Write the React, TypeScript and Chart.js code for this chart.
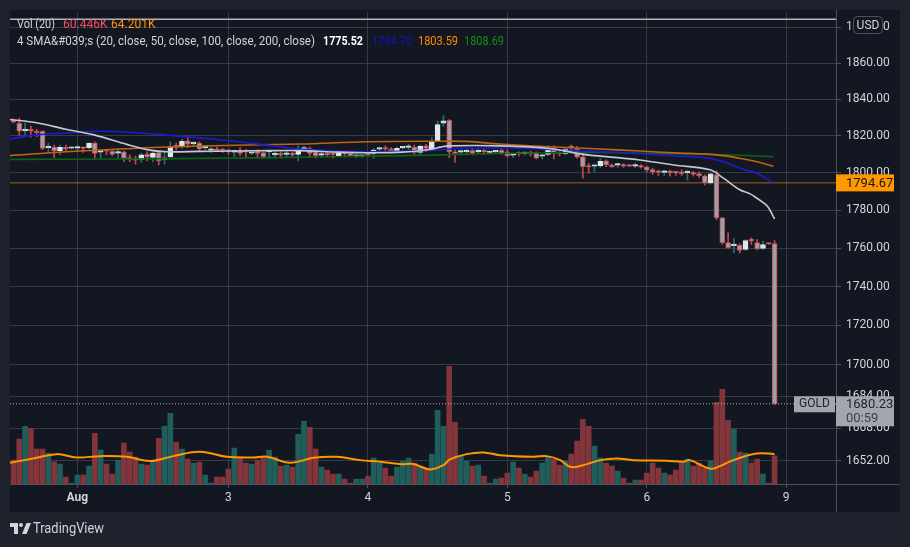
import React, { useEffect, useRef } from "react";
import { Chart, registerables } from "chart.js";

Chart.register(...registerables);

const FONT = "Roboto, 'Noto Sans', sans-serif";

// ---- OHLC (hourly bars, index 0..131) ----
const opens = [
  1828.4, 1826.8, 1822.9, 1823.6, 1822.0, 1822.5, 1813.6, 1813.9, 1812.0, 1813.9,
  1813.3, 1813.4, 1813.9, 1813.6, 1816.1, 1811.2, 1811.9, 1811.6, 1810.7, 1811.4,
  1808.2, 1807.7, 1807.3, 1810.0, 1808.4, 1810.9, 1807.3, 1808.8, 1815.0, 1814.1,
  1817.3, 1815.7, 1816.1, 1813.6, 1812.2, 1813.0, 1812.3, 1811.9, 1811.2, 1812.2,
  1811.4, 1810.6, 1811.8, 1810.9, 1811.3, 1809.7, 1810.55, 1810.0, 1810.55, 1810.0,
  1812.8, 1813.2, 1811.4, 1809.6, 1810.55, 1810.1, 1809.3, 1810.5, 1810.55, 1809.0,
  1809.0, 1810.55, 1810.55, 1812.8, 1813.1, 1813.0, 1812.0, 1813.5, 1813.8, 1813.9,
  1811.1, 1814.65, 1812.9, 1817.3, 1826.9, 1828.4, 1811.4, 1811.2, 1811.3, 1812.0,
  1811.3, 1811.5, 1811.0, 1811.3, 1812.2, 1811.4, 1809.6, 1810.5, 1810.4, 1810.6,
  1810.9, 1809.0, 1810.0, 1813.2, 1810.6, 1810.4, 1813.9, 1812.9, 1808.6, 1803.4,
  1803.6, 1803.8, 1806.5, 1804.35, 1804.2, 1804.5, 1803.9, 1803.7, 1804.0, 1803.3,
  1801.85, 1800.5, 1800.3, 1801.0, 1800.2, 1800.6, 1800.0, 1799.6, 1799.7, 1798.5,
  1794.6, 1799.0, 1776.0, 1763.05, 1761.4, 1761.5, 1759.4, 1764.2, 1763.05, 1759.9,
  1762.45, 1762.4,
];
const highs = [
  1829.3, 1829.6, 1827.1, 1825.3, 1823.6, 1822.85, 1816.1, 1815.0, 1815.0, 1815.0,
  1814.0, 1814.7, 1813.9, 1816.4, 1816.8, 1812.3, 1812.0, 1812.7, 1812.9, 1811.8,
  1809.7, 1809.1, 1810.55, 1811.4, 1811.4, 1811.4, 1811.8, 1816.8, 1816.1, 1818.2,
  1819.5, 1816.8, 1816.8, 1814.5, 1813.6, 1814.0, 1813.2, 1812.7, 1812.3, 1813.6,
  1812.7, 1811.4, 1812.5, 1811.4, 1812.3, 1811.4, 1811.4, 1812.3, 1811.1, 1814.65,
  1814.5, 1814.1, 1812.0, 1811.1, 1811.4, 1810.7, 1811.4, 1811.4, 1811.1, 1809.8,
  1809.8, 1811.4, 1813.2, 1813.8, 1814.65, 1813.6, 1813.9, 1814.1, 1815.4, 1815.0,
  1815.0, 1815.4, 1819.1, 1828.0, 1831.05, 1828.9, 1812.3, 1812.3, 1812.7, 1812.7,
  1812.7, 1812.7, 1811.8, 1812.0, 1812.7, 1812.3, 1810.55, 1811.4, 1811.4, 1811.8,
  1811.4, 1810.0, 1814.65, 1814.65, 1811.4, 1813.6, 1815.07, 1814.3, 1811.5, 1805.2,
  1804.7, 1807.9, 1807.0, 1804.7, 1805.2, 1805.0, 1804.2, 1805.1, 1804.5, 1803.6,
  1802.6, 1801.5, 1801.5, 1801.5, 1800.8, 1801.85, 1801.5, 1800.8, 1800.4, 1799.0,
  1799.9, 1801.1, 1776.35, 1768.1, 1765.15, 1762.35, 1764.6, 1765.5, 1764.6, 1763.75,
  1762.7, 1764.0,
];
const lows = [
  1827.1, 1820.4, 1820.4, 1819.3, 1819.6, 1812.5, 1811.1, 1808.2, 1809.7, 1811.8,
  1812.8, 1812.3, 1811.1, 1812.9, 1807.9, 1807.9, 1809.7, 1809.1, 1808.2, 1806.1,
  1806.1, 1804.7, 1805.7, 1806.45, 1806.1, 1804.3, 1804.7, 1807.5, 1812.3, 1813.2,
  1813.6, 1814.5, 1811.4, 1812.5, 1811.1, 1811.4, 1811.1, 1810.2, 1808.8, 1809.3,
  1808.8, 1810.0, 1808.8, 1807.9, 1808.6, 1807.9, 1807.9, 1808.6, 1808.6, 1806.45,
  1811.4, 1808.8, 1807.9, 1808.2, 1808.6, 1807.9, 1809.0, 1808.6, 1808.6, 1808.2,
  1808.2, 1809.0, 1807.9, 1811.4, 1811.8, 1811.4, 1811.4, 1813.0, 1812.2, 1810.0,
  1809.7, 1811.4, 1812.3, 1816.8, 1825.3, 1808.2, 1805.6, 1809.7, 1809.7, 1809.7,
  1810.4, 1810.0, 1810.2, 1810.7, 1810.0, 1808.6, 1808.4, 1809.1, 1809.7, 1809.1,
  1807.5, 1807.5, 1809.3, 1807.5, 1809.1, 1809.7, 1812.4, 1807.9, 1797.2, 1799.9,
  1800.4, 1802.9, 1803.3, 1802.9, 1802.9, 1803.0, 1803.4, 1802.9, 1802.6, 1800.4,
  1799.35, 1798.6, 1798.6, 1798.3, 1798.6, 1798.6, 1796.1, 1798.3, 1797.6, 1793.6,
  1794.0, 1775.1, 1762.0, 1759.9, 1757.6, 1757.6, 1758.85, 1762.0, 1759.2, 1759.4,
  1762.0, 1679.8,
];
const closes = [
  1827.5, 1822.5, 1823.1, 1822.5, 1821.7, 1813.2, 1813.8, 1811.8, 1813.8, 1812.9,
  1813.5, 1813.6, 1813.2, 1815.9, 1810.55, 1811.5, 1811.7, 1810.0, 1811.1, 1807.9,
  1807.5, 1806.8, 1809.7, 1808.6, 1810.7, 1806.45, 1807.7, 1814.1, 1813.8, 1817.0,
  1815.5, 1815.9, 1812.9, 1813.8, 1812.4, 1812.0, 1812.1, 1811.7, 1811.4, 1810.55,
  1811.2, 1810.8, 1810.55, 1808.6, 1811.5, 1809.9, 1809.7, 1810.2, 1809.7, 1812.0,
  1813.0, 1810.55, 1809.1, 1809.8, 1809.7, 1809.9, 1810.55, 1810.3, 1809.1, 1809.2,
  1809.2, 1809.7, 1812.3, 1813.0, 1812.9, 1812.0, 1813.2, 1813.7, 1814.0, 1811.1,
  1814.3, 1813.2, 1817.0, 1826.1, 1828.2, 1811.3, 1810.55, 1811.4, 1811.5, 1810.55,
  1811.5, 1811.3, 1811.2, 1811.5, 1810.55, 1809.1, 1809.8, 1810.3, 1810.6, 1810.4,
  1807.9, 1809.2, 1813.2, 1810.55, 1810.4, 1812.8, 1813.7, 1808.5, 1803.3, 1803.2,
  1803.8, 1806.3, 1804.35, 1803.3, 1804.5, 1803.6, 1803.7, 1803.9, 1803.1, 1801.5,
  1800.4, 1800.3, 1800.5, 1800.2, 1800.0, 1799.5, 1800.2, 1799.4, 1798.5, 1794.6,
  1799.5, 1776.0, 1762.9, 1760.25, 1761.6, 1758.85, 1764.1, 1763.9, 1759.7, 1762.0,
  1762.25, 1680.23,
];

// ---- Volume (thousands) ----
const volumes = [
  51.3, 96.3, 124.1, 119.8, 74.9, 74.9, 66.3, 47.8, 42.8, 15.0,
  2.1, 19.3, 19.3, 38.5, 109.1, 72.7, 42.8, 21.4, 51.3, 87.7,
  68.4, 57.8, 42.8, 40.6, 47.1, 98.4, 124.1, 151.9, 89.8, 74.9,
  53.5, 44.9, 47.1, 19.3, 2.1, 15.0, 15.0, 32.1, 77.0, 57.8,
  44.9, 42.8, 51.3, 57.8, 72.7, 57.8, 38.5, 40.6, 36.4, 107.0,
  134.8, 121.9, 74.9, 36.4, 29.9, 21.4, 21.4, 10.7, 2.1, 10.7,
  10.7, 17.1, 55.6, 44.9, 34.2, 17.1, 36.4, 49.2, 55.6, 44.9,
  36.4, 32.1, 64.2, 158.3, 124.1, 253.1, 132.6, 59.9, 49.2, 38.5,
  40.6, 17.1, 2.1, 10.7, 12.8, 23.5, 47.1, 34.2, 21.4, 15.0,
  27.8, 44.9, 57.8, 53.5, 40.6, 49.2, 64.2, 92.0, 139.0, 124.1,
  81.3, 55.6, 44.9, 38.5, 27.8, 12.8, 2.1, 8.6, 8.6, 23.5,
  44.9, 34.2, 23.5, 19.3, 29.9, 44.9, 53.5, 38.5, 44.9, 34.2,
  49.2, 175.4, 203.2, 136.9, 117.6, 68.4, 66.3, 44.9, 53.5, 21.4,
  2.1, 60.446,
];
const volMaX = [
  -0.6, 3.4, 7.4, 10.9, 14.9, 19.5, 23.5, 27.5, 32.1, 36.7, 41.3, 43.6, 47.6, 51.6,
  55.6, 59.6, 63.1, 66.5, 68.8, 71.7, 74, 75.1, 78, 80.9, 83.7, 89.5, 91.8, 94.1,
  95.8, 97.5, 101, 103.8, 106.7, 112.4, 115.3, 116.4, 119.9, 121.6, 123.9, 127.9, 131,
];
const volMaY = [
  45.6, 54.9, 64.2, 57.0, 59.9, 58.5, 49.2, 59.9, 69.2, 58.5, 57.0, 58.5, 45.6, 56.3,
  58.5, 51.3, 47.8, 42.8, 42.8, 31.4, 40.6, 52.8, 64.2, 67.7, 62.0, 58.5, 59.9, 51.3,
  37.1, 38.5, 51.3, 54.9, 51.3, 49.9, 47.8, 51.3, 32.8, 38.5, 51.3, 65.6, 64.2,
];

// ---- Moving averages ----
const sma20X = [-0.6, 4, 9, 14, 19.5, 23.5, 26.5, 32, 38, 44, 49.3, 56, 60.8, 67, 72, 73.5, 75, 83.7, 92.3, 98.1, 102, 107.8, 113.6, 119.9, 122.2, 125, 126.8, 127.9, 129.1, 129.9, 131];
const sma20Y = [1828.9, 1827.1, 1823.6, 1820.4, 1815.4, 1812.3, 1811.4, 1811.6, 1811.8, 1812.0, 1812.0, 1811.2, 1810.9, 1811.2, 1812.8, 1813.9, 1814.6, 1814.6, 1813.2, 1810.0, 1808.8, 1807.0, 1804.3, 1801.7, 1797.2, 1791.0, 1788.8, 1786.6, 1784.0, 1781.7, 1775.52];
const sma50X = [-0.6, 3.4, 9, 16, 20.6, 26.4, 32, 38, 43.6, 49.3, 60.8, 72.3, 78, 84, 90.6, 96, 102.1, 108, 113.6, 119.3, 122.2, 125.1, 127.9, 130.8];
const sma50Y = [1818.2, 1820.4, 1821.6, 1822.5, 1821.8, 1820.4, 1818.9, 1817.1, 1815.0, 1812.9, 1811.4, 1812.3, 1813.3, 1813.4, 1812.9, 1812.0, 1811.4, 1810.3, 1809.2, 1808.1, 1806.0, 1802.5, 1799.8, 1794.7];
const sma100X = [-0.6, 9, 20.6, 32, 49.3, 60.8, 72.3, 78, 83.7, 92.3, 100, 107.8, 113.6, 119.3, 122.5, 125.1, 128, 130.8];
const sma100Y = [1809.3, 1811.4, 1813.2, 1814.5, 1815.6, 1816.8, 1817.1, 1817.0, 1815.6, 1814.1, 1813.0, 1811.8, 1810.8, 1810.1, 1809.2, 1807.8, 1806.0, 1803.59];
const sma200X = [-0.6, 20, 35, 49.3, 60.8, 72.3, 83.7, 92.3, 100, 108, 114, 120, 125, 130.8];
const sma200Y = [1807.3, 1807.5, 1807.9, 1808.4, 1809.1, 1809.6, 1810.5, 1810.9, 1811.0, 1810.6, 1810.3, 1810.0, 1809.5, 1808.69];

// ---- Axes / levels ----
const xTickValues = [11, 37, 61, 85, 109, 133];
const xTickLabels = ["Aug", "3", "4", "5", "6", "9"];
const yTickValues = [1652, 1668, 1684, 1700, 1720, 1740, 1760, 1780, 1800, 1820, 1840, 1860, 1880];
const orangeLevel = 1794.67;
const lastPrice = 1680.23;
const topLevel = 1884.5;
const X_MIN = -0.602;
const X_MAX = 141.57;
const Y_MIN = 1640.5;
const Y_MAX = 1888.4;
const VOL_MAX = 1014;

const decor = {
  id: "decor",
  beforeDraw(chart: any) {
    const c = chart.ctx;
    c.save();
    c.fillStyle = "#1e222d";
    c.fillRect(0, 0, chart.width, chart.height);
    c.fillStyle = "#131722";
    c.fillRect(10, 10, 890, 502);
    c.restore();
  },
  afterDraw(chart: any) {
    const c = chart.ctx;
    const ca = chart.chartArea;
    const ys = chart.scales.y;
    c.save();
    // panel separators
    c.strokeStyle = "#4c505b";
    c.lineWidth = 1;
    c.beginPath();
    c.moveTo(ca.right + 0.5, 10);
    c.lineTo(ca.right + 0.5, 512);
    c.moveTo(10, ca.bottom + 0.5);
    c.lineTo(900, ca.bottom + 0.5);
    c.stroke();

    // legend texts
    c.textBaseline = "middle";
    c.textAlign = "left";
    c.font = `12px ${FONT}`;
    c.fillStyle = "#d1d4dc";
    c.fillText("Vol (20)", 17, 25, 38);
    c.fillStyle = "#f7525f";
    c.fillText("60.446K", 63, 25, 45);
    c.fillStyle = "#ff9800";
    c.fillText("64.201K", 111, 25, 45);
    c.fillStyle = "#d1d4dc";
    c.fillText("4 SMA&#039;s (20, close, 50, close, 100, close, 200, close)", 17, 41.5, 298);
    c.font = `bold 12px ${FONT}`;
    c.fillStyle = "#ffffff";
    c.fillText("1775.52", 323, 41.5, 40);
    c.font = `12px ${FONT}`;
    c.fillStyle = "#1212c8";
    c.fillText("1794.70", 372, 41.5, 40);
    c.fillStyle = "#ff8c00";
    c.fillText("1803.59", 418, 41.5, 40);
    c.fillStyle = "#109010";
    c.fillText("1808.69", 464, 41.5, 40);

    // USD badge
    c.fillStyle = "#131722";
    c.strokeStyle = "#50535e";
    c.beginPath();
    (c as any).roundRect(853.5, 16.5, 29, 17, 4);
    c.fill();
    c.stroke();
    c.fillStyle = "#d1d4dc";
    c.textAlign = "center";
    c.fillText("USD", 868, 25.5);

    // orange level label
    const yo = ys.getPixelForValue(orangeLevel);
    c.fillStyle = "#ff9800";
    c.fillRect(ca.right, yo - 8.5, 58, 17);
    c.fillStyle = "#131722";
    c.textAlign = "left";
    c.font = `13px ${FONT}`;
    c.fillText(orangeLevel.toFixed(2), ca.right + 10, yo + 0.5);

    // last price labels
    const yl = ys.getPixelForValue(lastPrice);
    c.fillStyle = "#a3a6af";
    c.fillRect(794, yl - 7.5, 41, 16);
    c.fillRect(ca.right, yl - 7.5, 58, 30);
    c.strokeStyle = "#a3a6af";
    c.beginPath();
    c.moveTo(ca.right, yl + 0.5);
    c.lineTo(ca.right + 5, yl + 0.5);
    c.stroke();
    c.fillStyle = "#1e222d";
    c.textAlign = "center";
    c.font = `12px ${FONT}`;
    c.fillText("GOLD", 814.5, yl + 0.5);
    c.textAlign = "left";
    c.font = `13px ${FONT}`;
    c.fillText(lastPrice.toFixed(2), ca.right + 10, yl + 0.5);
    c.fillStyle = "#3c3f4a";
    c.fillText("00:59", ca.right + 10, yl + 14.5);

    // TradingView logo
    c.fillStyle = "#d1d4dc";
    c.fillRect(10, 523, 8, 4);
    c.fillRect(14, 523, 4, 11);
    c.beginPath();
    c.arc(21, 525, 2, 0, Math.PI * 2);
    c.fill();
    c.beginPath();
    c.moveTo(26.5, 523);
    c.lineTo(31, 523);
    c.lineTo(26.5, 534);
    c.lineTo(22, 534);
    c.closePath();
    c.fill();
    c.font = `15px ${FONT}`;
    c.textBaseline = "middle";
    c.fillText("TradingView", 33, 529, 71);
    c.restore();
  },
};

export default function App() {
  const ref = useRef<HTMLCanvasElement>(null);
  useEffect(() => {
    const canvas = ref.current!;
    const up = (i: number) => closes[i] >= opens[i];
    const pairs = (xs: number[], ys: number[]) => xs.map((x, i) => ({ x, y: ys[i] }));
    const level = (y: number) => [{ x: X_MIN, y }, { x: X_MAX, y }];
    const smaLine = (data: any[], color: string, order: number) => ({
      type: "line" as const,
      data,
      yAxisID: "y",
      borderColor: color,
      borderWidth: 1.6,
      pointRadius: 0,
      tension: 0.35,
      order,
    });

    const chart = new Chart(canvas, {
      type: "bar",
      data: {
        datasets: [
          {
            type: "bar",
            data: volumes.map((v, i) => ({ x: i, y: v })) as any,
            yAxisID: "yv",
            backgroundColor: volumes.map((_, i) => (up(i) ? "#1f5e5b" : "#82353a")),
            barThickness: 5,
            grouped: false,
            order: 30,
          } as any,
          {
            type: "line",
            data: pairs(volMaX, volMaY),
            yAxisID: "yv",
            borderColor: "#ff9800",
            borderWidth: 2,
            pointRadius: 0,
            tension: 0.4,
            order: 29,
          } as any,
          {
            type: "line",
            data: level(orangeLevel),
            yAxisID: "y",
            borderColor: "#a8600e",
            borderWidth: 1,
            pointRadius: 0,
            order: 28,
          } as any,
          {
            type: "line",
            data: level(topLevel),
            yAxisID: "y",
            borderColor: "#b2b5be",
            borderWidth: 1.5,
            pointRadius: 0,
            order: 27,
          } as any,
          {
            type: "bar",
            data: opens.map((_, i) => ({ x: i, y: [lows[i], highs[i]] })) as any,
            yAxisID: "y",
            backgroundColor: opens.map((_, i) => (up(i) ? "#22716b" : "#c4474c")),
            barThickness: 1,
            grouped: false,
            order: 20,
          } as any,
          {
            type: "bar",
            data: opens.map((o, i) => ({ x: i, y: [o, closes[i]] })) as any,
            yAxisID: "y",
            backgroundColor: opens.map((_, i) => (up(i) ? "#e3e5ec" : "#9c9fa8")),
            borderColor: opens.map((_, i) => (up(i) ? "#e3e5ec" : "#c4474c")),
            borderWidth: 1,
            borderSkipped: false,
            barThickness: 5,
            minBarLength: 1.5,
            grouped: false,
            order: 19,
          } as any,
          smaLine(pairs(sma200X, sma200Y), "#0d6214", 8),
          smaLine(pairs(sma100X, sma100Y), "#c0650f", 7),
          smaLine(pairs(sma50X, sma50Y), "#1c1cd2", 6),
          smaLine(pairs(sma20X, sma20Y), "#c5c8cf", 5),
          {
            type: "line",
            data: level(lastPrice),
            yAxisID: "y",
            borderColor: "#b2b5be",
            borderWidth: 1,
            borderDash: [1, 2],
            pointRadius: 0,
            order: 1,
          } as any,
        ],
      },
      options: {
        responsive: false,
        animation: false,
        events: [],
        layout: { padding: { left: 10, top: 10, right: 10, bottom: 35 } },
        plugins: { legend: { display: false }, tooltip: { enabled: false } },
        scales: {
          x: {
            type: "linear",
            min: X_MIN,
            max: X_MAX,
            offset: false,
            afterBuildTicks: (s: any) => {
              s.ticks = xTickValues.map((v) => ({ value: v }));
            },
            afterFit: (s: any) => {
              s.height = 28;
            },
            ticks: {
              autoSkip: false,
              maxRotation: 0,
              padding: 3,
              color: "#d1d4dc",
              font: (ctx: any) => ({ family: FONT, size: 12, weight: ctx.index === 0 ? "bold" : "normal" }),
              callback: (v: any) => {
                const k = xTickValues.indexOf(Number(v));
                return k >= 0 ? xTickLabels[k] : "";
              },
            },
            grid: { color: "#363a45", tickColor: "#4c505b", tickLength: 4, offset: false },
            border: { display: false },
          },
          y: {
            type: "logarithmic",
            position: "right",
            min: Y_MIN,
            max: Y_MAX,
            afterBuildTicks: (s: any) => {
              s.ticks = yTickValues.map((v) => ({ value: v }));
            },
            afterFit: (s: any) => {
              s.width = 64;
            },
            ticks: {
              autoSkip: false,
              padding: 5,
              color: "#d1d4dc",
              font: { family: FONT, size: 12 },
              callback: (v: any) => Number(v).toFixed(2),
            },
            grid: { color: "#363a45", tickColor: "#4c505b", tickLength: 5 },
            border: { display: false },
          },
          yv: {
            type: "linear",
            display: false,
            min: 0,
            max: VOL_MAX,
          },
        },
      } as any,
      plugins: [decor],
    });
    return () => chart.destroy();
  }, []);

  return (
    <div style={{ position: "absolute", left: 0, top: 0, width: 910, height: 547, background: "#1e222d" }}>
      <canvas ref={ref} width={910} height={547} style={{ display: "block", width: 910, height: 547 }} />
    </div>
  );
}
